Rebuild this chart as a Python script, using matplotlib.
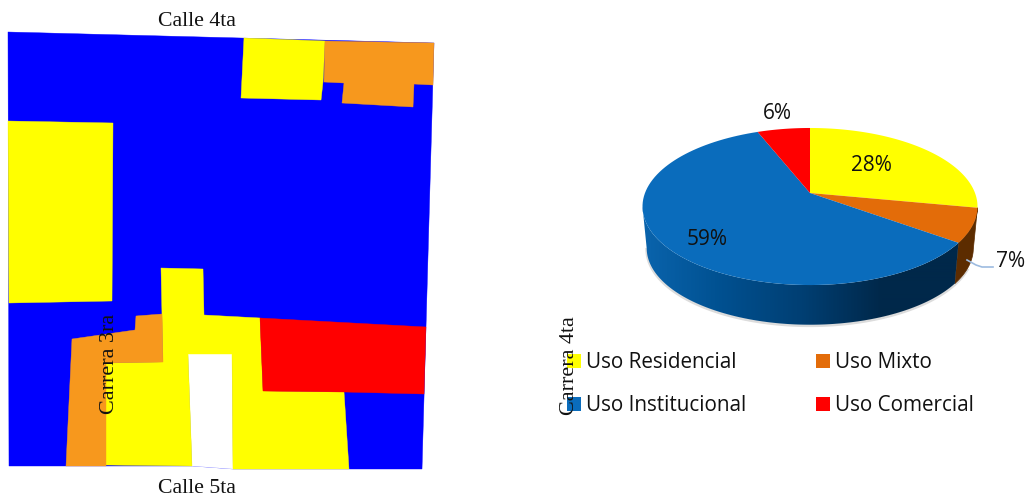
#!/usr/bin/env python3
import numpy as np
import matplotlib
matplotlib.use("Agg")
import matplotlib.pyplot as plt
from matplotlib.patches import Polygon

# pie data
categories = ["Uso Residencial", "Uso Mixto", "Uso Institucional", "Uso Comercial"]
shares = [28, 7, 59, 6]
pie_colors = ["#ffff00", "#e36c09", "#0a6cbc", "#ff0000"]
wall_mixed = "#5c2c00"
wall_blues = ["#0a64ad", "#005090", "#003f73", "#00284a", "#00284a"]

# map blocks in pixels
map_outline = [(8, 32), (434, 43), (422, 469), (233, 469), (192, 466), (9, 466)]
map_notch = [(188, 354), (232, 354), (233, 469), (192, 466)]
yellow_top = [(244, 38), (325, 41), (323, 82), (321, 100), (241, 98)]
yellow_left = [(8, 121), (113, 123), (112, 301), (9, 303)]
yellow_mid = [(161, 268), (203, 269), (204, 315), (260, 318), (263, 391), (344, 392), (349, 469),
              (233, 469), (232, 354), (188, 354), (192, 466), (106, 465), (106, 363), (163, 362)]
orange_top = [(325, 41), (434, 43), (433, 85), (414, 84), (413, 107), (342, 103), (344, 83), (324, 82)]
orange_left = [(72, 339), (135, 330), (136, 316), (162, 314), (163, 362), (106, 363), (106, 466), (66, 466)]
red_block = [(260, 318), (426, 327), (424, 394), (344, 392), (263, 391)]

MAP_BLUE = "#0000ff"
MAP_YELLOW = "#ffff00"
MAP_ORANGE = "#f7981d"
MAP_RED = "#ff0000"

APEX = (810, 193)
PIE_A, PIE_B, PIE_K = 165, 76.2, 0.172
DEPTH, SHRINK = 42, 0.975


def project(theta, scale=1.0, drop=0.0):
    x = np.sin(theta)
    y = np.cos(theta)
    den = 1 + PIE_K * y
    return APEX[0] + scale * PIE_A * x / den, APEX[1] - scale * PIE_B * y / den + drop


def wall_band(t0, t1):
    th = np.linspace(t0, t1, 150)
    xa, ya = project(th)
    xb, yb = project(th[::-1], SHRINK, DEPTH)
    return np.c_[np.r_[xa, xb], np.r_[ya, yb]]


fig = plt.figure(figsize=(10.27, 4.98), dpi=100)
ax = fig.add_axes([0, 0, 1, 1])

# map
for poly, color in [(map_outline, MAP_BLUE), (map_notch, "white"), (yellow_top, MAP_YELLOW),
                    (yellow_left, MAP_YELLOW), (yellow_mid, MAP_YELLOW), (orange_top, MAP_ORANGE),
                    (orange_left, MAP_ORANGE), (red_block, MAP_RED)]:
    xs, ys = zip(*poly)
    ax.fill(xs, ys, color=color, lw=0.3, zorder=2)

serif = "Liberation Serif"
ax.text(197, 21, "Calle 4ta", family=serif, fontsize=15.7, ha="center", va="center", color="#111111", zorder=5)
ax.text(197, 488, "Calle 5ta", family=serif, fontsize=15.7, ha="center", va="center", color="#111111", zorder=5)

# pie, side wall first
edges = np.radians(np.concatenate([[0], np.cumsum(shares)]) * 3.6)
shadow = np.linspace(np.radians(115), np.radians(260), 100)
sx, sy = project(shadow, SHRINK, DEPTH + 1)
ax.plot(sx, sy, color="#dcdcdc", lw=2, zorder=2.5)

mixed_wall = wall_band(edges[1], edges[2])
ax.add_patch(Polygon(mixed_wall, closed=True, fc=wall_mixed, ec=wall_mixed, lw=0.5, zorder=3))
blue_wall = Polygon(wall_band(edges[2], np.radians(260)), closed=True, fc="none", ec="none", zorder=3)
ax.add_patch(blue_wall)
cmap = matplotlib.colors.LinearSegmentedColormap.from_list("wall", wall_blues)
img = ax.imshow(np.linspace(0, 1, 320)[None, :], extent=(642, 962, 330, 200), cmap=cmap,
                aspect="auto", zorder=3, interpolation="bilinear")
img.set_clip_path(blue_wall)

for i, color in enumerate(pie_colors):
    th = np.linspace(edges[i], edges[i + 1], 100)
    xs, ys = project(th)
    ax.fill(np.r_[APEX[0], xs], np.r_[APEX[1], ys], color=color, lw=0, zorder=4)

ax.plot([967, 976, 982, 993], [260, 265, 267, 267], color="#9dbbe0", lw=1.2, zorder=5)

sans = "Open Sans"
label_xy = [(871, 165), (1011, 261), (707, 239), (777, 113)]
for share, (x, y) in zip(shares, label_xy):
    ax.text(x, y, f"{share}%", family=sans, fontsize=15, ha="center", va="center", color="#111111", zorder=6)

# legend
legend_xy = [(567, 354), (816, 354), (567, 397), (816, 397)]
for name, color, (x, y) in zip(categories, pie_colors, legend_xy):
    ax.fill([x, x + 14, x + 14, x], [y, y, y + 14, y + 14], color=color, lw=0, zorder=4)
    ax.text(x + 19, y + 8.5, name, family=sans, fontsize=14.9, ha="left", va="center", color="#111111", zorder=5)

ax.text(109, 364, "Carrera 3ra", family=serif, fontsize=15.9, rotation=90, ha="center", va="center", color="#111111", zorder=6)
ax.text(570, 366, "Carrera 4ta", family=serif, fontsize=15.9, rotation=90, ha="center", va="center", color="#111111", zorder=6)

ax.set_xlim(0, 1027)
ax.set_ylim(498, 0)
ax.set_aspect("auto")
ax.axis("off")

fig.savefig("out.png", dpi=100, facecolor="white")
